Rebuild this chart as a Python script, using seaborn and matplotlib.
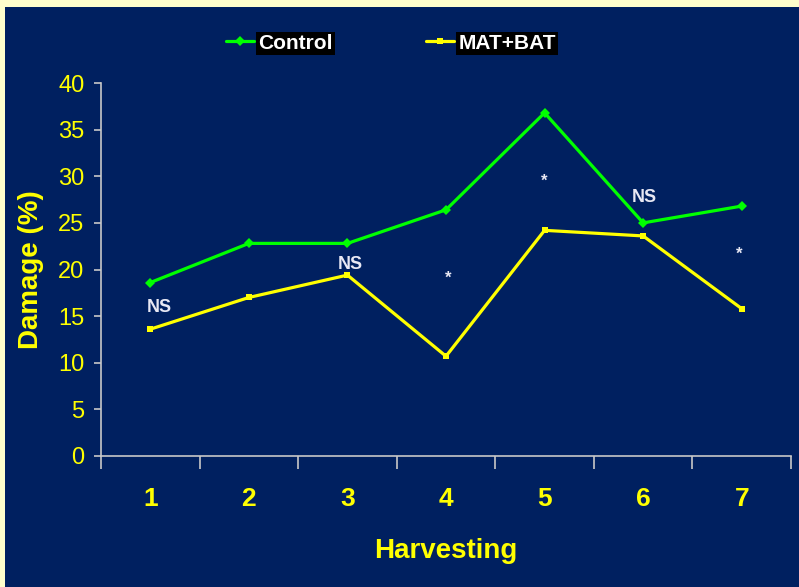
import numpy as np
import pandas as pd
import matplotlib
matplotlib.use("Agg")
import matplotlib.pyplot as plt
import seaborn as sns

# values
harvest = ["1", "2", "3", "4", "5", "6", "7"]
control = [18.6, 22.8, 22.8, 26.4, 36.8, 25.0, 26.8]
mat_bat = [13.6, 17.0, 19.4, 10.7, 24.2, 23.6, 15.8]
sig_labels = ["NS", "NS", "*", "*", "NS", "*"]
sig_x = [0.09, 2.03, 3.02, 4.0, 5.01, 5.97]
sig_y = [15.9, 20.5, 19.1, 29.5, 27.7, 21.6]

navy = "#002060"
yellow = "#ffff00"
green = "#00ff00"

sns.set_style("ticks")
plt.rcParams['font.family'] = ['Liberation Sans', 'DejaVu Sans']

df = pd.DataFrame({
    "Harvesting": list(range(len(harvest))) * 2,
    "Damage": control + mat_bat,
    "group": ["Control"] * len(harvest) + ["MAT+BAT"] * len(harvest),
})

fig = plt.figure(figsize=(7.99, 5.87), dpi=100, facecolor="#ffffcc")
bg = plt.Rectangle((5 / 799, 0), 1, 1 - 7 / 587, transform=fig.transFigure,
                   facecolor=navy, edgecolor="none", zorder=-10)
fig.add_artist(bg)
ax = fig.add_axes([101 / 799, 1 - 456 / 587, 690 / 799, 373 / 587])
ax.set_facecolor(navy)

sns.lineplot(data=df, x="Harvesting", y="Damage", hue="group", style="group",
             palette={"Control": green, "MAT+BAT": yellow},
             markers={"Control": "D", "MAT+BAT": "s"}, dashes=False,
             markersize=5, markeredgewidth=0, linewidth=2.3, ax=ax)

for lab, x, y in zip(sig_labels, sig_x, sig_y):
    ax.text(x, y, lab, color="#e8e8f4", fontsize=13 if lab == "NS" else 12,
            fontweight="bold", ha="center", va="center")

ax.set_xlim(-0.5, 6.5)
ax.set_ylim(0, 40)
ax.set_yticks(np.arange(0, 41, 5))
ax.set_xticks(range(len(harvest)))
ax.set_xticklabels(harvest)
ax.set_xticks(np.arange(-0.5, 7, 1), minor=True)
ax.tick_params(axis="x", which="major", length=0, pad=22, labelsize=19, labelcolor=yellow)
ax.tick_params(axis="x", which="minor", length=9, width=1.2, color="#c8c8c8", direction="out")
ax.tick_params(axis="y", length=5, width=1.2, color="#c8c8c8", pad=7, labelsize=17, labelcolor=yellow)
for t in ax.get_xticklabels():
    t.set_fontweight("bold")

for s in ["top", "right"]:
    ax.spines[s].set_visible(False)
for s in ["left", "bottom"]:
    ax.spines[s].set_color("#c8c8c8")
    ax.spines[s].set_linewidth(1.2)

ax.set_xlabel("Harvesting", color=yellow, fontsize=20, fontweight="bold", labelpad=20)
ax.set_ylabel("Damage (%)", color=yellow, fontsize=20, fontweight="bold", labelpad=10)

handles, labels = ax.get_legend_handles_labels()
leg = ax.legend(handles, labels, ncol=2, frameon=False, loc="center",
                bbox_to_anchor=(0.42, 1.107), handlelength=1.35,
                handletextpad=0.2, columnspacing=4.5,
                prop={'weight': 'bold', 'size': 15})
for t in leg.get_texts():
    t.set_color("white")
    t.set_bbox(dict(facecolor="black", edgecolor="none", pad=1.5))

fig.savefig("out.png", dpi=100, facecolor=fig.get_facecolor())
